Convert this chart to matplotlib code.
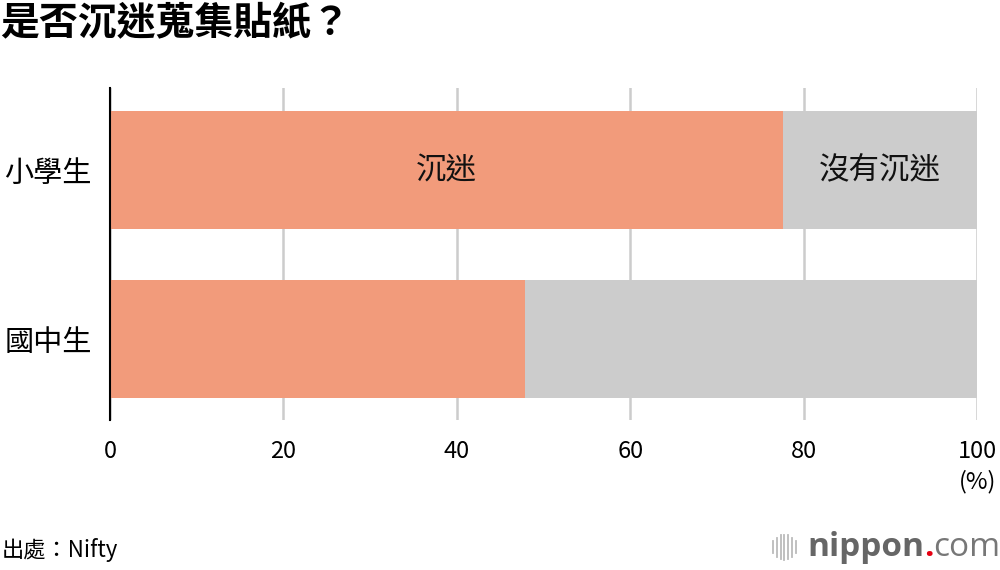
import matplotlib
matplotlib.use("Agg")
import matplotlib.pyplot as plt

plt.rcParams['font.family'] = ['Noto Sans CJK TC', 'DejaVu Sans']

# data
groups = ['小學生', '國中生']
yes_vals = [77.6, 47.9]   # 沉迷
no_vals = [22.4, 52.1]    # 沒有沉迷
xticks = [0, 20, 40, 60, 80, 100]

fig = plt.figure(figsize=(10, 5.7), dpi=100)
ax = fig.add_axes([0.11, 0.263, 0.867, 0.583])

ax.barh(groups, yes_vals, height=0.7, color='#F29B7B', zorder=2)
ax.barh(groups, no_vals, left=yes_vals, height=0.7, color='#CCCCCC', zorder=2)

ax.text(yes_vals[0] / 2, 0, '沉迷', ha='center', va='center', fontsize=22, color='#111111',
        fontweight='medium', zorder=3)
ax.text(yes_vals[0] + no_vals[0] / 2, 0, '沒有沉迷', ha='center', va='center', fontsize=22,
        color='#111111', fontweight='medium', zorder=3)

ax.set_xlim(0, 100)
ax.set_ylim(1.48, -0.49)
ax.set_xticks(xticks)
ax.set_xticklabels([str(v) for v in xticks], fontsize=17)
ax.tick_params(axis='x', length=0, pad=14)
ax.tick_params(axis='y', length=0, labelsize=21, pad=13)
for lab in ax.get_yticklabels():
    lab.set_fontweight('medium')
ax.grid(axis='x', color='#CCCCCC', linewidth=1.8, zorder=0)
for s in ['top', 'right', 'bottom']:
    ax.spines[s].set_visible(False)
ax.spines['left'].set_linewidth(1.5)
ax.spines['left'].set_zorder(4)

fig.text(0.978, 0.155, '(%)', ha='center', va='center', fontsize=17)

fig.text(0.0, 0.958, '是否沉迷蒐集貼紙？', ha='left', va='center', fontsize=28, fontweight='bold')
fig.text(0.002, 0.035, '出處：Nifty', ha='left', va='center', fontsize=16)

# logo
for i, h in enumerate([0.5, 0.75, 0.95, 1.0, 0.95, 0.75, 0.5]):
    x = 0.773 + i * 0.0038
    fig.add_artist(plt.Line2D([x, x], [0.04 - 0.022 * h, 0.04 + 0.022 * h], color='#BBBBBB',
                              linewidth=1.3, transform=fig.transFigure))
t1 = fig.text(0.807, 0.04, 'nippon', ha='left', va='center', fontsize=24, fontweight='bold',
              color='#666666', family=['Open Sans'])
fig.canvas.draw()
r = fig.canvas.get_renderer()
bb = t1.get_window_extent(renderer=r).transformed(fig.transFigure.inverted())
t2 = fig.text(bb.x1, 0.04, '.', ha='left', va='center', fontsize=24, fontweight='bold',
              color='#E60012', family=['Open Sans'])
bb2 = t2.get_window_extent(renderer=r).transformed(fig.transFigure.inverted())
fig.text(bb2.x1, 0.04, 'com', ha='left', va='center', fontsize=24, color='#777777',
         family=['Open Sans'])

fig.savefig('out.png', dpi=100)
